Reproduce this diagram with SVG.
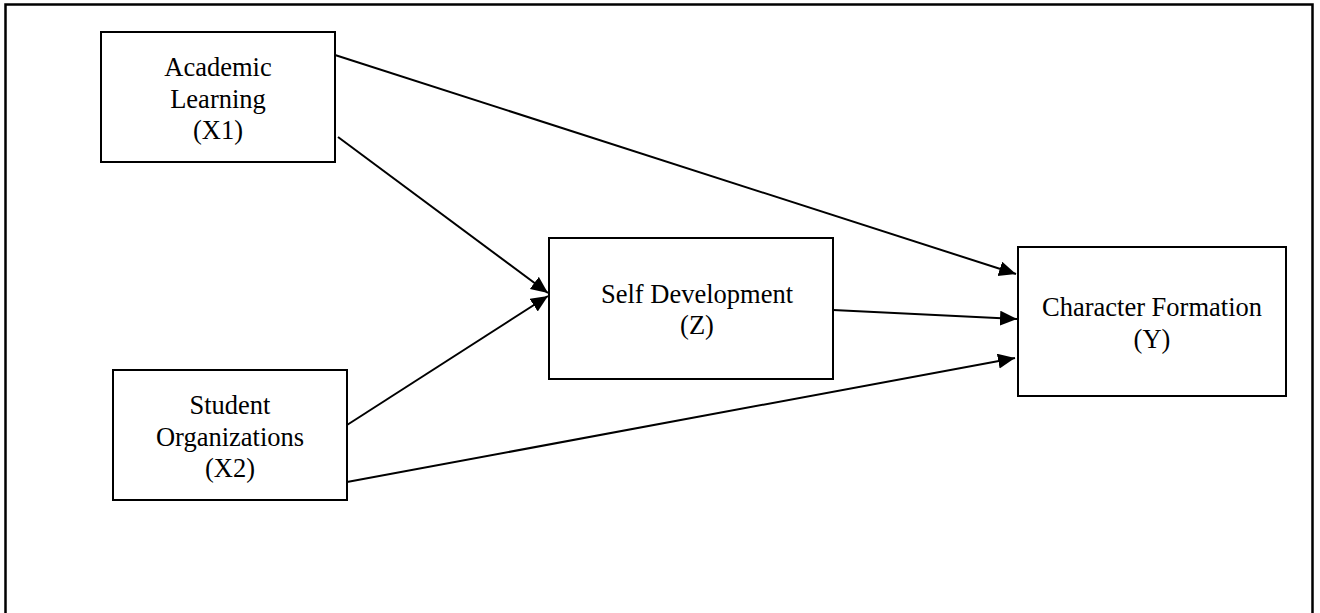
<svg xmlns="http://www.w3.org/2000/svg" width="1320" height="613" viewBox="0 0 1320 613">
  <style>
    .box { fill: #ffffff; stroke: #000000; stroke-width: 2; }
    .lbl { font-family: 'Liberation Serif', 'Times New Roman', 'DejaVu Serif', serif; font-size: 26.5px; fill: #000000; text-anchor: middle; }
    .edge { stroke: #000000; stroke-width: 2; fill: none; marker-end: url(#arrow); }
  </style>
  <defs>
    <marker id="arrow" markerUnits="userSpaceOnUse" markerWidth="18" markerHeight="16" refX="17" refY="7.5" orient="auto">
      <path d="M0,0 L17,7.5 L0,15 z" fill="#000000"/>
    </marker>
  </defs>
  <rect x="0" y="0" width="1320" height="613" fill="#ffffff"/>
  <path d="M5.5,620 L5.5,4.5 L1312.5,4.5 L1312.5,620" fill="none" stroke="#000000" stroke-width="2.5"/>

  <g id="connectors">
    <line class="edge" x1="335" y1="55" x2="1016" y2="274"/>
    <line class="edge" x1="338" y1="137" x2="548" y2="293"/>
    <line class="edge" x1="347" y1="425" x2="548" y2="296"/>
    <line class="edge" x1="833" y1="310" x2="1017" y2="319"/>
    <line class="edge" x1="347" y1="482" x2="1015" y2="358"/>
  </g>

  <g id="node-x1">
    <rect class="box" x="101" y="32" width="234" height="130"/>
    <text class="lbl" x="218" y="76">Academic</text>
    <text class="lbl" x="218" y="107.5">Learning</text>
    <text class="lbl" x="218" y="139">(X1)</text>
  </g>

  <g id="node-x2">
    <rect class="box" x="113" y="370" width="234" height="130"/>
    <text class="lbl" x="230" y="414">Student</text>
    <text class="lbl" x="230" y="445.5">Organizations</text>
    <text class="lbl" x="230" y="477">(X2)</text>
  </g>

  <g id="node-z">
    <rect class="box" x="549" y="238" width="284" height="141"/>
    <text class="lbl" x="697" y="303">Self Development</text>
    <text class="lbl" x="697" y="334">(Z)</text>
  </g>

  <g id="node-y">
    <rect class="box" x="1018" y="247" width="268" height="149"/>
    <text class="lbl" x="1152" y="316">Character Formation</text>
    <text class="lbl" x="1152" y="348">(Y)</text>
  </g>
</svg>
